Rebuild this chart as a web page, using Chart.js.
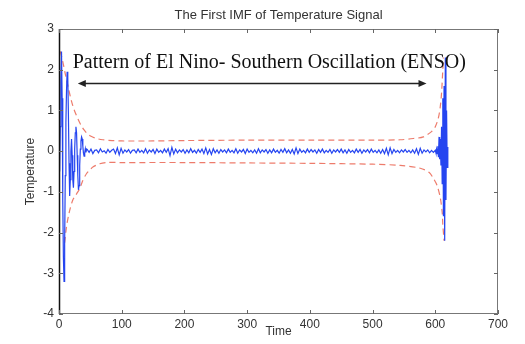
<!DOCTYPE html>
<html>
<head>
<meta charset="utf-8">
<script src="https://cdn.jsdelivr.net/npm/chart.js@4.4.1/dist/chart.umd.min.js"></script>
<style>
  html, body { margin: 0; padding: 0; background: #fff; }
  #wrap { width: 525px; height: 344px; }
</style>
</head>
<body>
<div id="wrap"><canvas id="imfChart"></canvas></div>
<script>
// first IMF, start of record (time 0..44, step 1)
var headTemp = [0.1, -0.5, 0.6, 1.7, 2.45, 1.3, -1.2, -2.6, -3.2, -2.3,
    -0.6, 0.7, 1.5, 1.95, 1.8, 0.9, -0.3, -1.1, -0.7, 0.0,
    0.3, -0.1, -0.7, -0.9, -0.5, 0.05, 0.45, 0.6, 0.45, -0.1,
    -0.6, -0.95, -0.85, -0.35, 0.05, 0.25, 0.35, 0.3, 0.12, -0.05,
    -0.12, -0.04, 0.06, -0.03, 0.05];

// quiet middle part (time 45..600, step 3)
var bodyTemp = [0.04, -0.03, 0.05, -0.06, 0.02, 0.03, -0.04, 0.06, -0.02, 0.01,
    -0.05, 0.04, -0.03, 0.02, 0.05, -0.06, 0.08, -0.09, 0.07, -0.05,
    0.03, -0.02, 0.04, -0.05, 0.02, 0.03, -0.04, 0.05, -0.03, 0.02,
    -0.04, 0.06, -0.05, 0.03, -0.02, 0.04, -0.06, 0.05, -0.03, 0.02,
    -0.04, 0.05, -0.03, 0.06, -0.11, 0.09, -0.07, 0.05, -0.04, 0.03,
    -0.02, 0.04, -0.05, 0.03, -0.04, 0.06, -0.03, 0.02, -0.05, 0.04,
    -0.03, 0.05, -0.06, 0.08, -0.07, 0.04, -0.08, 0.06, -0.04, 0.03,
    -0.05, 0.04, -0.02, 0.03, -0.04, 0.05, -0.03, 0.02, -0.04, 0.06,
    -0.05, 0.03, -0.02, 0.04, -0.06, 0.05, -0.03, 0.02, -0.04, 0.03,
    -0.05, 0.06, -0.04, 0.03, -0.02, 0.04, -0.05, 0.03, -0.04, 0.05,
    -0.03, 0.02, -0.05, 0.04, -0.03, 0.06, -0.04, 0.03, -0.05, 0.04,
    -0.07, 0.08, -0.06, 0.05, -0.03, 0.02, -0.04, 0.05, -0.03, 0.04,
    -0.02, 0.03, -0.05, 0.04, -0.03, 0.05, -0.04, 0.02, -0.03, 0.04,
    -0.05, 0.03, -0.02, 0.04, -0.03, 0.05, -0.04, 0.03, -0.05, 0.04,
    -0.03, 0.02, -0.04, 0.05, -0.03, 0.04, -0.05, 0.03, -0.02, 0.04,
    -0.04, 0.05, -0.03, 0.02, -0.04, 0.03, -0.05, 0.04, -0.06, 0.07,
    -0.09, 0.08, -0.06, 0.04, -0.03, 0.02, -0.04, 0.03, -0.02, 0.04,
    -0.03, 0.02, -0.04, 0.03, -0.05, 0.06, -0.08, 0.07, -0.05, 0.03,
    -0.02, 0.03, -0.04, 0.02, -0.03, 0.02];

// end of record (time 601..620, step 1)
var tailTemp = [-0.04, 0.05, -0.06, 0.12, -0.15, 0.35, -0.2, 0.3, -0.35, 0.6,
    -0.8, 1.3, -1.6, 1.6, -2.2, 2.3, -1.2, 1.0, -0.4, 0.1];

// envelope (red dashed)
var upperTime = [2, 6, 10, 15, 20, 25, 30, 35, 40, 45, 52, 60, 70, 85, 100, 150, 200, 300, 400, 500, 544, 565, 581, 594, 600, 605, 608, 610, 612, 613];
var upperVal  = [2.45, 2.2, 1.9, 1.55, 1.22, 0.98, 0.8, 0.64, 0.52, 0.43, 0.36, 0.31, 0.28, 0.26, 0.25, 0.25, 0.26, 0.27, 0.27, 0.27, 0.28, 0.31, 0.35, 0.48, 0.6, 0.82, 1.1, 1.43, 2.0, 2.3];
var lowerTime = [9, 12, 15, 18, 22, 26, 30, 33, 38, 44, 50, 54, 65, 76, 100, 200, 300, 400, 500, 544, 576, 590, 597, 603, 608, 611, 612, 614];
var lowerVal  = [-2.25, -1.85, -1.6, -1.4, -1.2, -1.1, -1.0, -0.92, -0.72, -0.55, -0.45, -0.39, -0.31, -0.28, -0.28, -0.28, -0.29, -0.3, -0.32, -0.35, -0.42, -0.52, -0.67, -0.85, -1.15, -1.5, -1.8, -2.2];

var xTicks = [0, 100, 200, 300, 400, 500, 600, 700];
var yTicks = [-4, -3, -2, -1, 0, 1, 2, 3];

var chartTitle = 'The First IMF of Temperature Signal';

// annotation: ENSO span
var ensoText = 'Pattern of El Nino- Southern Oscillation (ENSO)';
var ensoFrom = 30, ensoTo = 586, ensoLevel = 1.66;
var ensoTextX = 21.8, ensoTextY = 2.18;

// build {x, y} points
var signal = [];
headTemp.forEach(function (v, i) { signal.push({x: i, y: v}); });
bodyTemp.forEach(function (v, i) { signal.push({x: 45 + i * 3, y: v}); });
tailTemp.forEach(function (v, i) { signal.push({x: 601 + i, y: v}); });

function pairs(xs, ys) {
    return xs.map(function (x, i) { return {x: x, y: ys[i]}; });
}

var tickFont = {family: "'Liberation Sans', Arial, sans-serif", size: 12};

var matlabFrame = {
    id: 'matlabFrame',
    afterDatasetsDraw: function (chart) {
        var ctx = chart.ctx, a = chart.chartArea;
        var sx = chart.scales.x, sy = chart.scales.y;
        ctx.save();

        // title, centred over the axes box
        ctx.font = "13px 'Liberation Sans', Arial, sans-serif";
        ctx.fillStyle = '#333';
        ctx.textAlign = 'center';
        ctx.textBaseline = 'middle';
        ctx.fillText(chartTitle, (a.left + a.right) / 2, a.top - 14);

        // box
        ctx.strokeStyle = '#777';
        ctx.lineWidth = 1;
        ctx.strokeRect(a.left + 0.5, a.top + 0.5, a.right - a.left - 1, a.bottom - a.top - 1);
        ctx.strokeStyle = '#111';
        ctx.lineWidth = 1.5;
        ctx.beginPath();
        ctx.moveTo(a.left + 0.5, a.top);
        ctx.lineTo(a.left + 0.5, a.bottom);
        ctx.stroke();

        // inward ticks
        ctx.strokeStyle = '#666';
        ctx.lineWidth = 1;
        ctx.beginPath();
        xTicks.forEach(function (t) {
            var px = Math.round(sx.getPixelForValue(t)) + 0.5;
            ctx.moveTo(px, a.bottom); ctx.lineTo(px, a.bottom - 4);
            ctx.moveTo(px, a.top); ctx.lineTo(px, a.top + 4);
        });
        yTicks.forEach(function (t) {
            var py = Math.round(sy.getPixelForValue(t)) + 0.5;
            ctx.moveTo(a.left, py); ctx.lineTo(a.left + 4, py);
            ctx.moveTo(a.right, py); ctx.lineTo(a.right - 4, py);
        });
        ctx.stroke();

        // double-headed arrow
        var x1 = sx.getPixelForValue(ensoFrom), x2 = sx.getPixelForValue(ensoTo);
        var ya = sy.getPixelForValue(ensoLevel);
        ctx.strokeStyle = '#222';
        ctx.fillStyle = '#222';
        ctx.lineWidth = 1.5;
        ctx.beginPath();
        ctx.moveTo(x1 + 6, ya); ctx.lineTo(x2 - 6, ya);
        ctx.stroke();
        ctx.beginPath();
        ctx.moveTo(x1, ya); ctx.lineTo(x1 + 8, ya - 3.5); ctx.lineTo(x1 + 8, ya + 3.5); ctx.closePath();
        ctx.moveTo(x2, ya); ctx.lineTo(x2 - 8, ya - 3.5); ctx.lineTo(x2 - 8, ya + 3.5); ctx.closePath();
        ctx.fill();

        // label
        ctx.font = "20px 'Liberation Serif', 'Times New Roman', serif";
        ctx.fillStyle = '#111';
        ctx.textAlign = 'left';
        ctx.textBaseline = 'middle';
        ctx.fillText(ensoText, sx.getPixelForValue(ensoTextX), sy.getPixelForValue(ensoTextY));
        ctx.restore();
    }
};

new Chart(document.getElementById('imfChart'), {
    type: 'line',
    data: {
        datasets: [
            {
                label: 'IMF 1',
                data: signal,
                borderColor: '#2545f0',
                borderWidth: 1.2,
                pointRadius: 0,
                tension: 0
            },
            {
                label: 'upper envelope',
                data: pairs(upperTime, upperVal),
                borderColor: 'rgba(232, 90, 70, 0.8)',
                borderWidth: 1.2,
                borderDash: [6, 4],
                pointRadius: 0,
                tension: 0.3
            },
            {
                label: 'lower envelope',
                data: pairs(lowerTime, lowerVal),
                borderColor: 'rgba(232, 90, 70, 0.8)',
                borderWidth: 1.2,
                borderDash: [6, 4],
                pointRadius: 0,
                tension: 0.3
            }
        ]
    },
    options: {
        responsive: true,
        maintainAspectRatio: false,
        animation: false,
        layout: {padding: {left: 0, right: 27, top: 29, bottom: 0}},
        plugins: {
            legend: {display: false},
            tooltip: {enabled: false},
            title: {display: false}
        },
        scales: {
            x: {
                type: 'linear',
                min: 0,
                max: 700,
                grid: {display: false, drawTicks: false},
                border: {display: false},
                afterBuildTicks: function (scale) {
                    scale.ticks = xTicks.map(function (v) { return {value: v}; });
                },
                afterFit: function (scale) { scale.height = 30; },
                ticks: {color: '#333', font: tickFont, padding: 3, maxRotation: 0},
                title: {display: true, text: 'Time', color: '#333', font: tickFont, padding: {top: 0, bottom: 5}}
            },
            y: {
                type: 'linear',
                min: -4,
                max: 3,
                grid: {display: false, drawTicks: false},
                border: {display: false},
                afterBuildTicks: function (scale) {
                    scale.ticks = yTicks.map(function (v) { return {value: v}; });
                },
                afterFit: function (scale) { scale.width = 59; },
                ticks: {color: '#333', font: tickFont, padding: 5},
                title: {display: true, text: 'Temperature', color: '#333', font: tickFont, padding: {top: 23, bottom: 0}}
            }
        }
    },
    plugins: [matlabFrame]
});
</script>
</body>
</html>
